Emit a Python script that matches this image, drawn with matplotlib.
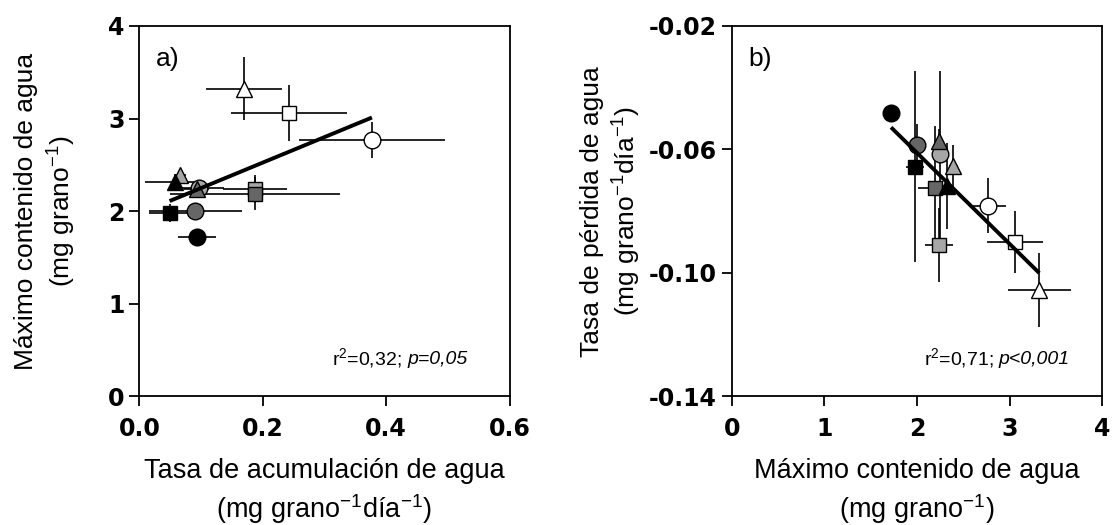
import matplotlib
matplotlib.use('Agg')
import matplotlib.pyplot as plt
import numpy as np
from matplotlib.ticker import FormatStrFormatter
from matplotlib.offsetbox import TextArea, HPacker, AnchoredOffsetbox

plt.rcParams['font.family'] = 'Liberation Sans'
plt.rcParams['mathtext.fontset'] = 'custom'
plt.rcParams['mathtext.rm'] = 'Liberation Sans'
plt.rcParams['mathtext.it'] = 'Liberation Sans:italic'
plt.rcParams['axes.unicode_minus'] = False

# 12 treatments: circle / square / triangle x black, dark gray, light gray, white
markers = ['o', 'o', 'o', 'o', 's', 's', 's', 's', '^', '^', '^', '^']
colors = ['black', '#666666', '#a6a6a6', 'white'] * 3

# tasa de acumulacion de agua (mg grano-1 dia-1)
acc = [0.094, 0.091, 0.097, 0.377, 0.049, 0.188, 0.188, 0.242, 0.058, 0.093, 0.066, 0.170]
acc_err = [0.031, 0.075, 0.040, 0.118, 0.033, 0.138, 0.052, 0.094, 0.049, 0.020, 0.010, 0.062]

# maximo contenido de agua (mg grano-1)
mca = [1.72, 2.00, 2.25, 2.77, 1.98, 2.19, 2.24, 3.06, 2.32, 2.24, 2.39, 3.32]
mca_err = [0.02, 0.06, 0.04, 0.19, 0.10, 0.18, 0.15, 0.30, 0.05, 0.04, 0.05, 0.34]

# tasa de perdida de agua (mg grano-1 dia-1)
loss = [-0.0481, -0.0587, -0.0616, -0.0782, -0.0656, -0.0724, -0.0908, -0.0900,
        -0.0719, -0.0573, -0.0654, -0.1054]
loss_err = [0.0, 0.007, 0.027, 0.009, 0.031, 0.020, 0.012, 0.010, 0.014, 0.004, 0.007, 0.012]

# regression lines: slope, intercept
fit_a = [2.75, 1.975]
fit_b = [-0.0295, -0.0021]

stats_a = ['r$^2$=0,32;', 'p=0,05']
stats_b = ['r$^2$=0,71;', 'p<0,001']

order = [2, 6, 10, 1, 5, 9, 0, 4, 8, 3, 7, 11]

tickfont = dict(family='DejaVu Sans', weight='bold', size=17)
xlabfont = dict(family='Liberation Sans', size=19.5)
ylabfont = dict(family='Liberation Sans', size=19)

fig = plt.figure(figsize=(11.12, 5.25), dpi=100)
ax1 = fig.add_axes([0.1253, 0.2448, 0.3329, 0.7057])
ax2 = fig.add_axes([0.658, 0.2448, 0.3333, 0.7057])


def panel(ax, x, xe, y, ye, fit, stats, letter, sx):
    for i in order:
        ax.errorbar(x[i], y[i], xerr=xe[i], yerr=ye[i], fmt='none',
                    ecolor='black', elinewidth=1.2, capsize=0, zorder=1)
    for i in order:
        ms = {'o': 12, 's': 10.5, '^': 11}[markers[i]]
        ax.plot(x[i], y[i], marker=markers[i], ms=ms, mfc=colors[i],
                mec='black', mew=1.0, ls='none', zorder=3)
    xx = np.array([min(x), max(x)])
    ax.plot(xx, fit[0] * xx + fit[1], color='black', lw=2.8, zorder=4,
            solid_capstyle='butt')
    ax.text(0.045, 0.91, letter, transform=ax.transAxes, fontsize=19,
            va='center', ha='left')
    box = HPacker(children=[TextArea(stats[0], textprops=dict(fontsize=14)),
                            TextArea(stats[1], textprops=dict(fontsize=14, style='italic'))],
                  align='baseline', pad=0, sep=4)
    ab = AnchoredOffsetbox(loc='lower right', child=box, frameon=False, pad=0,
                           borderpad=0, bbox_to_anchor=(sx, 0.072),
                           bbox_transform=ax.transAxes)
    ax.add_artist(ab)
    for s in ax.spines.values():
        s.set_linewidth(1.3)
    ax.tick_params(direction='out', length=7, width=1.3)
    ax.tick_params(axis='x', pad=8)
    ax.tick_params(axis='y', pad=3.5)


panel(ax1, acc, acc_err, mca, mca_err, fit_a, stats_a, 'a)', 0.886)
ax1.set_xlim(0, 0.6)
ax1.set_ylim(0, 4)
ax1.set_xticks([0, 0.2, 0.4, 0.6])
ax1.set_yticks([0, 1, 2, 3, 4])
ax1.xaxis.set_major_formatter(FormatStrFormatter('%.1f'))
ax1.set_xlabel('Tasa de acumulación de agua\n(mg grano$^{-1}$día$^{-1}$)',
               fontdict=xlabfont, labelpad=12, linespacing=1.3)
ax1.set_ylabel('Máximo contenido de agua\n(mg grano$^{-1}$)',
               fontdict=ylabfont, labelpad=22, linespacing=1.3)

panel(ax2, mca, mca_err, loss, loss_err, fit_b, stats_b, 'b)', 0.913)
ax2.set_xlim(0, 4)
ax2.set_ylim(-0.14, -0.02)
ax2.set_xticks([0, 1, 2, 3, 4])
ax2.set_yticks([-0.14, -0.10, -0.06, -0.02])
ax2.yaxis.set_major_formatter(FormatStrFormatter('%.2f'))
ax2.set_xlabel('Máximo contenido de agua\n(mg grano$^{-1}$)',
               fontdict=xlabfont, labelpad=12, linespacing=1.3)
ax2.set_ylabel('Tasa de pérdida de agua\n(mg grano$^{-1}$día$^{-1}$)',
               fontdict=ylabfont, labelpad=4, linespacing=1.3)

for ax in (ax1, ax2):
    for lab in ax.get_xticklabels() + ax.get_yticklabels():
        lab.set_fontproperties(tickfont)

fig.savefig('out.png', dpi=100)
